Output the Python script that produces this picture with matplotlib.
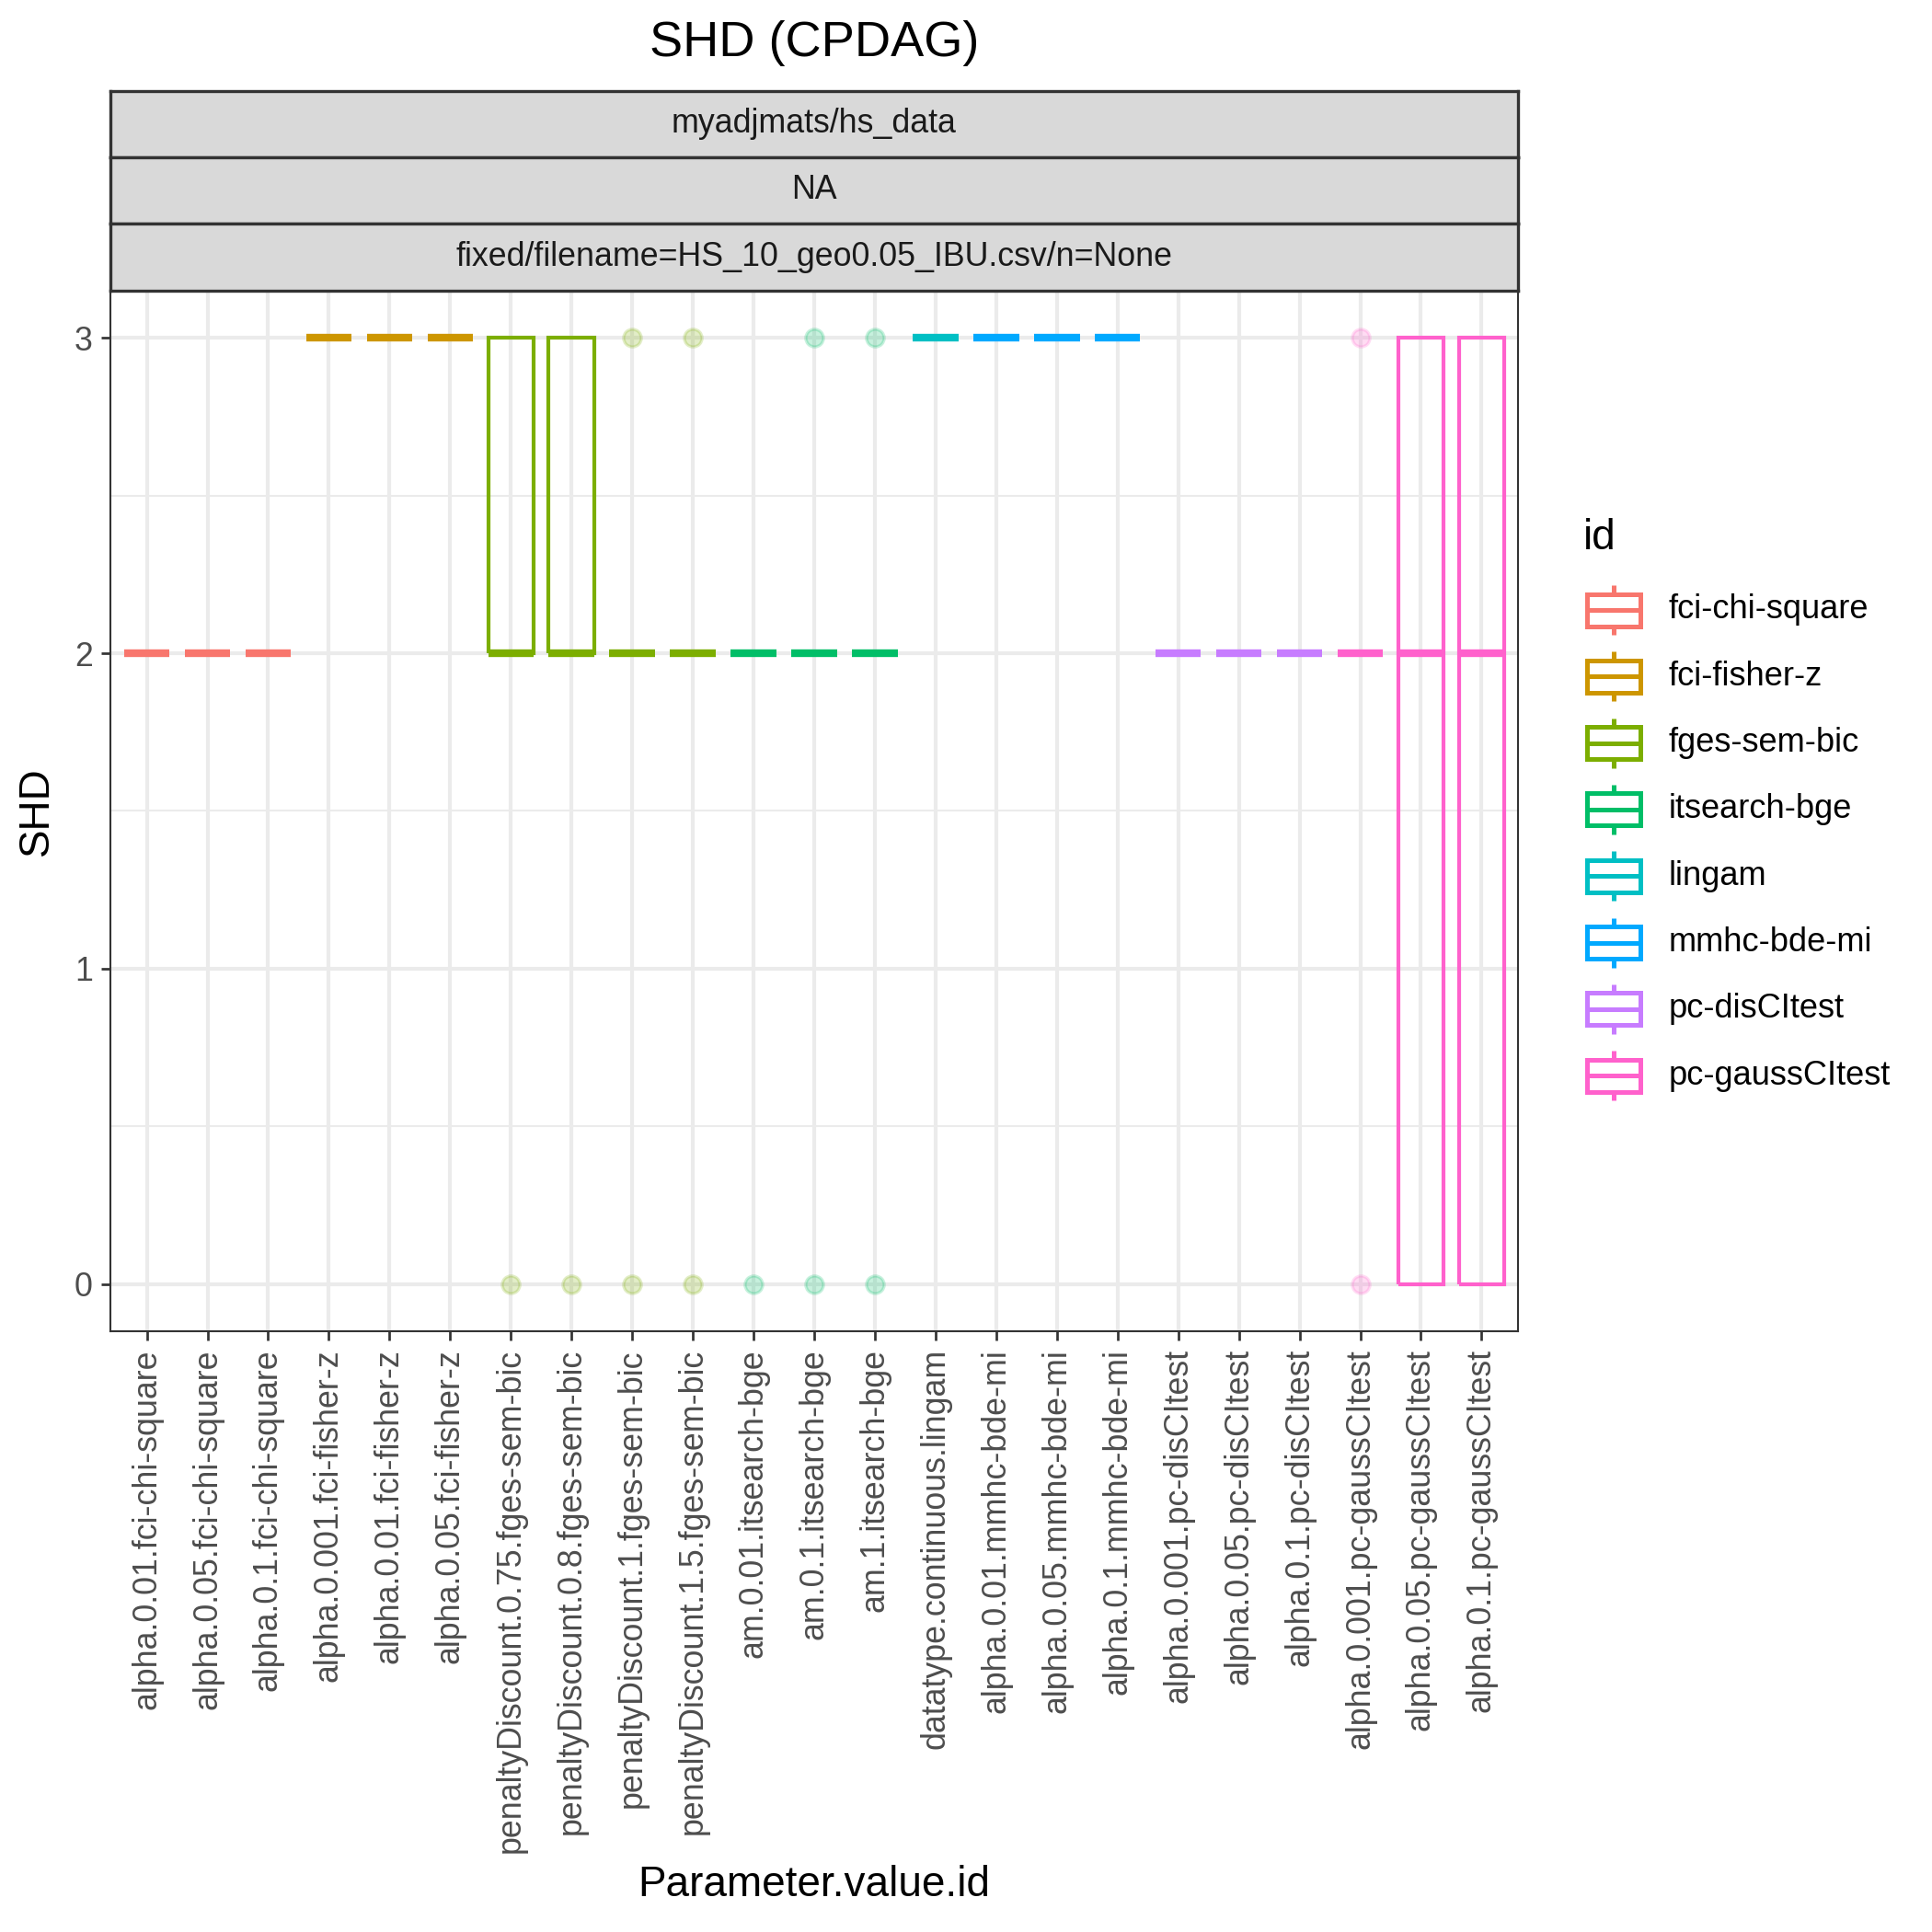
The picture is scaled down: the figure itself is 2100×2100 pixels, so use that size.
import matplotlib
matplotlib.use("Agg")
import matplotlib.pyplot as plt
import numpy as np

plt.rcParams['font.family'] = ['Liberation Sans', 'DejaVu Sans']

# --- data ---
labels = [
    "alpha.0.01.fci-chi-square", "alpha.0.05.fci-chi-square", "alpha.0.1.fci-chi-square",
    "alpha.0.001.fci-fisher-z", "alpha.0.01.fci-fisher-z", "alpha.0.05.fci-fisher-z",
    "penaltyDiscount.0.75.fges-sem-bic", "penaltyDiscount.0.8.fges-sem-bic",
    "penaltyDiscount.1.fges-sem-bic", "penaltyDiscount.1.5.fges-sem-bic",
    "am.0.01.itsearch-bge", "am.0.1.itsearch-bge", "am.1.itsearch-bge",
    "datatype.continuous.lingam",
    "alpha.0.01.mmhc-bde-mi", "alpha.0.05.mmhc-bde-mi", "alpha.0.1.mmhc-bde-mi",
    "alpha.0.001.pc-disCItest", "alpha.0.05.pc-disCItest", "alpha.0.1.pc-disCItest",
    "alpha.0.001.pc-gaussCItest", "alpha.0.05.pc-gaussCItest", "alpha.0.1.pc-gaussCItest",
]
group = [
    "fci-chi-square", "fci-chi-square", "fci-chi-square",
    "fci-fisher-z", "fci-fisher-z", "fci-fisher-z",
    "fges-sem-bic", "fges-sem-bic", "fges-sem-bic", "fges-sem-bic",
    "itsearch-bge", "itsearch-bge", "itsearch-bge",
    "lingam",
    "mmhc-bde-mi", "mmhc-bde-mi", "mmhc-bde-mi",
    "pc-disCItest", "pc-disCItest", "pc-disCItest",
    "pc-gaussCItest", "pc-gaussCItest", "pc-gaussCItest",
]
# SHD values per run (10 runs each)
shd = [
    [2, 2, 2, 2, 2, 2, 2, 2, 2, 2],
    [2, 2, 2, 2, 2, 2, 2, 2, 2, 2],
    [2, 2, 2, 2, 2, 2, 2, 2, 2, 2],
    [3, 3, 3, 3, 3, 3, 3, 3, 3, 3],
    [3, 3, 3, 3, 3, 3, 3, 3, 3, 3],
    [3, 3, 3, 3, 3, 3, 3, 3, 3, 3],
    [0, 2, 2, 2, 2, 2, 3, 3, 3, 3],
    [0, 2, 2, 2, 2, 2, 3, 3, 3, 3],
    [0, 2, 2, 2, 2, 2, 2, 2, 2, 3],
    [0, 2, 2, 2, 2, 2, 2, 2, 2, 3],
    [0, 2, 2, 2, 2, 2, 2, 2, 2, 2],
    [0, 2, 2, 2, 2, 2, 2, 2, 2, 3],
    [0, 2, 2, 2, 2, 2, 2, 2, 2, 3],
    [3, 3, 3, 3, 3, 3, 3, 3, 3, 3],
    [3, 3, 3, 3, 3, 3, 3, 3, 3, 3],
    [3, 3, 3, 3, 3, 3, 3, 3, 3, 3],
    [3, 3, 3, 3, 3, 3, 3, 3, 3, 3],
    [2, 2, 2, 2, 2, 2, 2, 2, 2, 2],
    [2, 2, 2, 2, 2, 2, 2, 2, 2, 2],
    [2, 2, 2, 2, 2, 2, 2, 2, 2, 2],
    [0, 2, 2, 2, 2, 2, 2, 2, 2, 3],
    [0, 0, 0, 0, 2, 2, 3, 3, 3, 3],
    [0, 0, 0, 0, 2, 2, 3, 3, 3, 3],
]
ids = ["fci-chi-square", "fci-fisher-z", "fges-sem-bic", "itsearch-bge",
       "lingam", "mmhc-bde-mi", "pc-disCItest", "pc-gaussCItest"]
colors = ["#F8766D", "#CD9600", "#7CAE00", "#00BE67",
          "#00BFC4", "#00A9FF", "#C77CFF", "#FF61CC"]
strip_texts = ["myadjmats/hs_data", "NA", "fixed/filename=HS_10_geo0.05_IBU.csv/n=None"]

color_of = dict(zip(ids, colors))
W = 2100.0
box_lw = 1.0
grid_lw = 1.0
border_lw = 0.5
dark = "#333333"

fig = plt.figure(figsize=(7, 7), dpi=300)

# main panel (pixel edges)
pl, pr, pt, pb = 120, 1650, 316, 1447
ax = fig.add_axes([pl / W, 1 - pb / W, (pr - pl) / W, (pb - pt) / W])
n = len(labels)
pos = np.arange(1, n + 1)

ax.set_xlim(0.4, n + 0.6)
ax.set_ylim(-0.15, 3.15)
for yv in [0.5, 1.5, 2.5]:
    ax.axhline(yv, color="#EBEBEB", lw=grid_lw / 2, zorder=0)
for yv in [0, 1, 2, 3]:
    ax.axhline(yv, color="#EBEBEB", lw=grid_lw, zorder=0)
for xv in pos:
    ax.axvline(xv, color="#EBEBEB", lw=grid_lw, zorder=0)

for i, vals in enumerate(shd):
    c = color_of[group[i]]
    ax.boxplot([vals], positions=[pos[i]], widths=0.75, whis=1.5,
               showcaps=False, patch_artist=False, manage_ticks=False,
               boxprops=dict(color=c, lw=box_lw, solid_capstyle="butt",
                             solid_joinstyle="miter"),
               whiskerprops=dict(color=c, lw=box_lw, solid_capstyle="butt"),
               medianprops=dict(color=c, lw=box_lw * 2, solid_capstyle="butt"),
               flierprops=dict(marker="o", markersize=4.6, markerfacecolor=c,
                               markeredgecolor=c, alpha=0.22, markeredgewidth=0.8),
               zorder=3)

ax.set_xticks(pos)
ax.set_xticklabels(labels, rotation=90, ha="center", va="top")
ax.set_yticks([0, 1, 2, 3])
ax.set_yticklabels(["0", "1", "2", "3"])
ax.tick_params(axis="both", length=2.4, width=0.65, color=dark,
               labelsize=8.6, labelcolor="#4D4D4D", pad=2.2)
for s in ax.spines.values():
    s.set_color(dark)
    s.set_linewidth(border_lw)

fig.text((pl + pr) / 2 / W, 1 - 2049 / W, "Parameter.value.id", ha="center",
         va="center", fontsize=11)
fig.text(40 / W, 1 - (pt + pb) / 2 / W, "SHD", ha="center", va="center",
         rotation=90, fontsize=11)

# facet strips
edges = [99, 171, 243, 316]
for k, txt in enumerate(strip_texts):
    sa = fig.add_axes([pl / W, 1 - edges[k + 1] / W, (pr - pl) / W,
                       (edges[k + 1] - edges[k]) / W])
    sa.set_facecolor("#D9D9D9")
    sa.set_xticks([])
    sa.set_yticks([])
    for s in sa.spines.values():
        s.set_color(dark)
        s.set_linewidth(border_lw * 1.6)
    sa.text(0.5, 0.5, txt, ha="center", va="center", fontsize=8.6,
            color="#1A1A1A", transform=sa.transAxes)

# title
fig.text((pl + pr) / 2 / W, 1 - 47 / W, "SHD (CPDAG)", ha="center", va="center",
         fontsize=13.0)

# legend, drawn in figure pixel space
lg = fig.add_axes([0, 0, 1, 1])
lg.set_xlim(0, W)
lg.set_ylim(W, 0)
lg.axis("off")
lg.text(1721, 585, "id", ha="left", va="center", fontsize=11)
kcx, kcy0, kstep = 1754, 663, 72.3
bw, bh, wend = 58, 35, 27
for j, (name, c) in enumerate(zip(ids, colors)):
    cy = kcy0 + j * kstep
    lg.add_patch(plt.Rectangle((kcx - bw / 2, cy - bh / 2), bw, bh,
                               fill=False, ec=c, lw=box_lw * 1.2))
    lg.plot([kcx - bw / 2, kcx + bw / 2], [cy, cy], color=c, lw=box_lw * 1.2)
    lg.plot([kcx, kcx], [cy - wend, cy - bh / 2], color=c, lw=box_lw * 1.2,
            solid_capstyle="butt")
    lg.plot([kcx, kcx], [cy + bh / 2, cy + wend], color=c, lw=box_lw * 1.2,
            solid_capstyle="butt")
    lg.text(1814, cy, name, ha="left", va="center", fontsize=8.7)

fig.savefig("out.png", dpi=300)
